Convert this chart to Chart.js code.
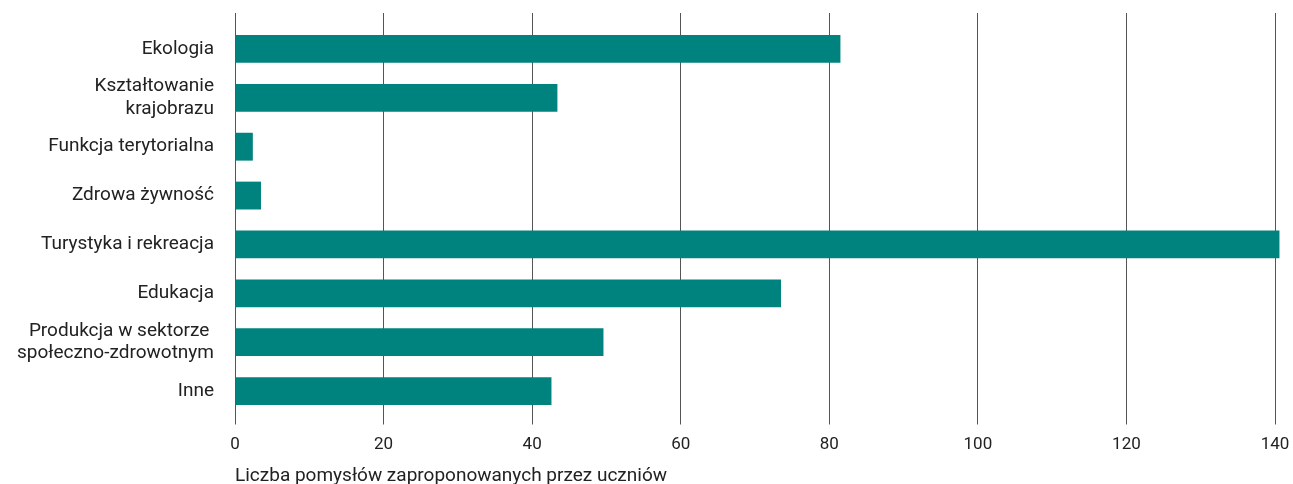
<!DOCTYPE html>
<html>
<head>
<meta charset="utf-8">
<script src="https://cdn.jsdelivr.net/npm/chart.js@4"></script>
<style>
html,body{margin:0;padding:0;background:#fff;}
#wrap{width:1293px;height:484px;position:relative;}
</style>
</head>
<body>
<div id="wrap"><canvas id="c"></canvas></div>
<script>
const categories = [
  'Ekologia',
  ['Kształtowanie', 'krajobrazu'],
  'Funkcja terytorialna',
  'Zdrowa żywność',
  'Turystyka i rekreacja',
  'Edukacja',
  ['Produkcja w sektorze ', 'społeczno-zdrowotnym'],
  'Inne'
];
const ideas = [81.5, 43.4, 2.4, 3.5, 140.6, 73.5, 49.6, 42.6];
const xTicks = [0, 20, 40, 60, 80, 100, 120, 140];
const axisTitle = 'Liczba pomysłów zaproponowanych przez uczniów';

const FONT = 'Roboto, "Noto Sans", sans-serif';
const TEXT = '#222';
const GRID = '#555';

new Chart(document.getElementById('c'), {
  type: 'bar',
  data: {
    labels: categories,
    datasets: [{
      data: ideas,
      backgroundColor: '#00837F',
      borderWidth: 0,
      categoryPercentage: 1,
      barPercentage: 0.57,
      clip: false
    }]
  },
  options: {
    indexAxis: 'y',
    responsive: true,
    maintainAspectRatio: false,
    animation: false,
    devicePixelRatio: 1,
    layout: { padding: { top: 13, right: 18, bottom: 0, left: 0 } },
    plugins: { legend: { display: false }, tooltip: { enabled: false } },
    scales: {
      x: {
        position: 'bottom',
        min: 0, max: 140,
        afterBuildTicks: s => { s.ticks = xTicks.map(v => ({ value: v })); },
        afterFit: s => { s.height = 68.5; s.paddingLeft = 0; s.paddingRight = 0; },
        grid: { color: GRID, lineWidth: 1, drawTicks: true, tickLength: 9, tickColor: GRID },
        border: { display: false },
        ticks: { color: TEXT, font: { family: FONT, size: 17 }, padding: 10, maxRotation: 0 },
        title: { display: true, text: axisTitle, align: 'start', color: TEXT,
                 font: { family: FONT, size: 19 }, padding: { top: 6, bottom: -4 } }
      },
      x2: {
        position: 'top',
        min: 0, max: 140,
        afterBuildTicks: s => { s.ticks = xTicks.map(v => ({ value: v })); },
        afterFit: s => { s.paddingLeft = 0; s.paddingRight = 0; },
        grid: { drawOnChartArea: false, drawTicks: true, tickLength: 11.5, color: GRID, tickColor: GRID },
        border: { display: false },
        ticks: { display: false }
      },
      y: {
        grid: { display: false, drawTicks: false },
        border: { display: false },
        afterFit: s => { s.width = 235; s.paddingTop = 0; s.paddingBottom = 0; },
        ticks: { color: TEXT, font: { family: FONT, size: 19 }, padding: 21, autoSkip: false }
      }
    }
  }
});
</script>
</body>
</html>
